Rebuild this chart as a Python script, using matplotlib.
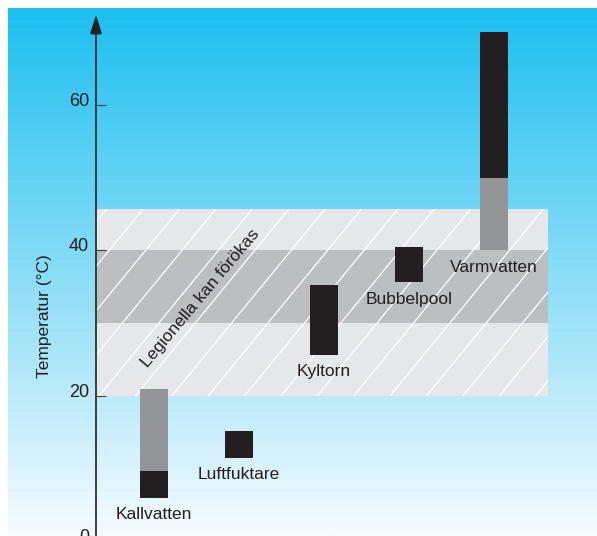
import numpy as np
import matplotlib
matplotlib.use('Agg')
import matplotlib.pyplot as plt
import matplotlib.transforms as mtransforms
from matplotlib.patches import Rectangle

plt.rcParams['font.family'] = ['Liberation Sans', 'DejaVu Sans']

# data
categories = ['Kallvatten', 'Luftfuktare', 'Kyltorn', 'Bubbelpool', 'Varmvatten']
black_lo = [6, 11.5, 25.7, 35.6, 50]
black_hi = [9.7, 15.2, 35.3, 40.5, 70]
grey_lo = [9.7, np.nan, np.nan, np.nan, 40]
grey_hi = [21, np.nan, np.nan, np.nan, 50]
band_outer = (20, 45.7)
band_inner = (30, 40)
yticks = [0, 20, 40, 60]

ink = '#231f20'
grey = '#939598'
light = '#e6e7e8'
dark = '#bcbec0'

fig = plt.figure(figsize=(5.97, 5.36), dpi=100)

# gradient background
bg = fig.add_axes([8 / 597, 0, 589 / 597, 528 / 536])
top = np.array([28, 191, 240]) / 255
bot = np.array([246, 251, 254]) / 255
t = np.linspace(0, 1, 256)[:, None]
grad = top[None, :] * (1 - t) + bot[None, :] * t
bg.imshow(grad[:, None, :], aspect='auto', extent=[0, 1, 0, 1])
bg.set_axis_off()

ax = fig.add_axes([96 / 597, -5.5 / 536, 501 / 597, 533.5 / 536])
ax.patch.set_alpha(0)
xmin, xmax = -0.682, 5.212
ax.set_xlim(xmin, xmax)
ax.set_ylim(0, 73.33)
band_right = 4.632

# Legionella band
outer = Rectangle((xmin, band_outer[0]), band_right - xmin, band_outer[1] - band_outer[0],
                  facecolor=light, edgecolor='none', zorder=1)
ax.add_patch(outer)
ax.add_patch(Rectangle((xmin, band_inner[0]), band_right - xmin, band_inner[1] - band_inner[0],
                       facecolor=dark, edgecolor='none', zorder=1.1))

# diagonal white hatch lines
slope = 14.25      # y units per x unit
step = 0.428
x0 = 1.921
for k in range(-20, 20):
    xs = x0 + k * step
    ln, = ax.plot([xs, xs + 30 / slope], [20, 50], color='white', lw=0.9, zorder=1.2)
    ln.set_clip_path(outer)

x = np.arange(len(categories))
w = 0.33
ax.bar(x, np.array(grey_hi) - np.array(grey_lo), bottom=grey_lo, width=w, color=grey, zorder=3)
ax.bar(x, np.array(black_hi) - np.array(black_lo), bottom=black_lo, width=w, color=ink, zorder=3)

for i, name in enumerate(categories):
    low = np.nanmin([black_lo[i], grey_lo[i]])
    ax.annotate(name, xy=(i, low), xytext=(0, -6.5), textcoords='offset points',
                ha='center', va='top', fontsize=12.5, color=ink, zorder=4)

ax.text(0.541, 33.5, 'Legionella kan förökas', rotation=50, rotation_mode='anchor',
        ha='center', va='center', fontsize=12.5, color=ink, zorder=4)

# axis with arrow
for s in ax.spines.values():
    s.set_visible(False)
ax.annotate('', xy=(xmin, 72.4), xytext=(xmin, -1),
            arrowprops=dict(arrowstyle='-|>,head_length=1.15,head_width=0.36',
                            mutation_scale=10, color=ink, lw=1.2, shrinkA=0, shrinkB=0),
            annotation_clip=False, zorder=5)

ax.set_xticks([])
ax.set_yticks(yticks)
ax.tick_params(axis='y', direction='in', length=7.2, width=0.8, color='#414042',
               pad=5, labelsize=13, labelcolor=ink)
offset = mtransforms.ScaledTranslation(0, 4.3 / 72, fig.dpi_scale_trans)
for lab in ax.get_yticklabels():
    lab.set_transform(lab.get_transform() + offset)

fig.text(45 / 597, (536 - 316) / 536, 'Temperatur (°C)', rotation=90,
         ha='center', va='center', fontsize=12.5, color=ink)

fig.savefig('out.png', dpi=100)
